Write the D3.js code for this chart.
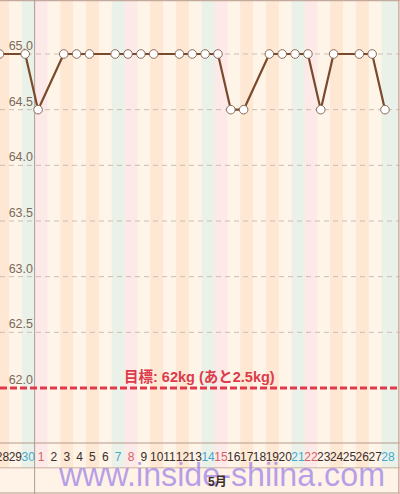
<!DOCTYPE html>
<html>
<head>
<meta charset="utf-8">
<script src="https://cdn.jsdelivr.net/npm/d3@7"></script>
<style>
  body { margin: 0; background: #fff; }
  #graf text { font-family: "Liberation Sans", Arial, "Noto Sans CJK JP", sans-serif; }
</style>
</head>
<body>
<div id="graf"></div>
<script>
// datos
var dias = ['28','29','30','1','2','3','4','5','6','7','8','9','10','11','12','13','14','15','16','17','18','19','20','21','22','23','24','25','26','27','28']
var pesos = [65.0, null, 65.0, 64.5, null, 65.0, 65.0, 65.0, null, 65.0, 65.0, 65.0, 65.0, null, 65.0, 65.0,
             65.0, 65.0, 64.5, 64.5, null, 65.0, 65.0, 65.0, 65.0, 64.5, 65.0, null, 65.0, 65.0, 64.5]
var yTicks = [62.0, 62.5, 63.0, 63.5, 64.0, 64.5, 65.0]
var meta = 62.0
var metaTexto = '目標: 62kg (あと2.5kg)'
var mesTexto = '5月'
var inicio = new Date(2016, 3, 28)

ancho_total = 400
alto_total = 494

graf = d3.select('#graf')
svg = graf.append('svg')
          .attr('width', ancho_total)
          .attr('height', alto_total)

alto_plot = 443
alto_eje = 468

// dia de la semana de cada columna
semana = dias.map((d, i) => new Date(inicio.getFullYear(), inicio.getMonth(), inicio.getDate() + i).getDay())

function colorCol(w) {
  if (w == 0) return '#fde9e7'
  if (w == 6) return '#eaf1e8'
  if (w == 2 || w == 4) return '#fee7d3'
  return '#fff4e8'
}
function colorDia(w) {
  if (w == 0) return '#d2626a'
  if (w == 6) return '#45a9cf'
  return '#3b2f2c'
}

x = d3.scaleLinear().domain([0, dias.length - 1]).range([-0.5, 385])
y = d3.scaleLinear().domain([meta, 65.0]).range([388, 54])
bw = x(1) - x(0)
off = 3

// fondo
svg.append('rect').attr('width', ancho_total).attr('height', alto_total).attr('fill', '#fff3e7')

svg.append('g').selectAll('rect')
   .data(dias)
   .enter().append('rect')
   .attr('x', (d, i) => x(i) + off - bw / 2)
   .attr('y', 0)
   .attr('width', (d, i) => i == dias.length - 1 ? ancho_total - (x(i) + off - bw / 2) : bw + 0.5)
   .attr('height', alto_eje)
   .attr('fill', (d, i) => colorCol(semana[i]))

// lineas de grilla
svg.append('g').selectAll('line')
   .data(yTicks.filter(t => t != meta))
   .enter().append('line')
   .attr('x1', 0).attr('x2', ancho_total)
   .attr('y1', d => y(d)).attr('y2', d => y(d))
   .attr('stroke', '#c9beb4')
   .attr('stroke-width', 1)
   .attr('stroke-dasharray', '5,4')

// etiquetas eje y
svg.append('g').selectAll('text')
   .data(yTicks)
   .enter().append('text')
   .attr('x', 33)
   .attr('y', d => y(d) - 4)
   .attr('text-anchor', 'end')
   .attr('font-size', '12.5px')
   .attr('fill', '#7c6a5c')
   .text(d => d.toFixed(1))

// bordes y bandas del eje x
svg.append('line').attr('x1', 0).attr('x2', ancho_total).attr('y1', alto_plot).attr('y2', alto_plot)
   .attr('stroke', '#b59a8c').attr('stroke-width', 1)
svg.append('line').attr('x1', 0).attr('x2', ancho_total).attr('y1', alto_eje).attr('y2', alto_eje)
   .attr('stroke', '#b59a8c').attr('stroke-width', 1)
svg.append('rect').attr('x', 0).attr('y', alto_eje + 0.5).attr('width', ancho_total).attr('height', alto_total - alto_eje - 2)
   .attr('fill', '#fff2e6')
svg.append('line').attr('x1', 0).attr('x2', ancho_total).attr('y1', 493).attr('y2', 493)
   .attr('stroke', '#b59a8c').attr('stroke-width', 1.2)
svg.append('line').attr('x1', 0).attr('x2', ancho_total).attr('y1', 0.6).attr('y2', 0.6)
   .attr('stroke', '#c4aa9c').attr('stroke-width', 1.2)
svg.append('line').attr('x1', 398.8).attr('x2', 398.8).attr('y1', 0).attr('y2', alto_total)
   .attr('stroke', '#d7aca3').attr('stroke-width', 1.5)

// separador de mes
sep = x(2) + off + bw / 2
svg.append('line').attr('x1', sep).attr('x2', sep).attr('y1', 0).attr('y2', alto_total)
   .attr('stroke', '#ab9c94').attr('stroke-width', 1)

// etiquetas de dias
svg.append('g').selectAll('text')
   .data(dias)
   .enter().append('text')
   .attr('x', (d, i) => x(i) + off)
   .attr('y', 461)
   .attr('text-anchor', 'middle')
   .attr('font-size', '12px')
   .attr('fill', (d, i) => colorDia(semana[i]))
   .text(d => d)

// marca de agua
svg.append('text')
   .attr('x', 59)
   .attr('y', 486)
   .attr('font-size', '33px')
   .attr('textLength', 326)
   .attr('lengthAdjust', 'spacingAndGlyphs')
   .attr('fill', '#9a7fe6')
   .attr('fill-opacity', 0.72)
   .text('www.inside-shiina.com')

svg.append('text')
   .attr('x', (sep + ancho_total) / 2)
   .attr('y', 486)
   .attr('text-anchor', 'middle')
   .attr('font-size', '12px')
   .attr('font-weight', 'bold')
   .attr('fill', '#3b2f2c')
   .text(mesTexto)

// linea meta
svg.append('line').attr('x1', 0).attr('x2', ancho_total).attr('y1', y(meta)).attr('y2', y(meta))
   .attr('stroke', '#e03a4a').attr('stroke-width', 3).attr('stroke-dasharray', '7,3')

svg.append('text')
   .attr('x', 124)
   .attr('y', y(meta) - 6)
   .attr('font-size', '14.5px')
   .attr('font-weight', 'bold')
   .attr('fill', '#dc3c4a')
   .text(metaTexto)

// serie
datos = pesos.map((v, i) => ({ i: i, v: v })).filter(d => d.v != null)

linea = d3.line().x(d => x(d.i)).y(d => y(d.v))

svg.append('path')
   .datum(datos)
   .attr('d', linea)
   .attr('fill', 'none')
   .attr('stroke', '#7a4a2c')
   .attr('stroke-width', 2.2)
   .attr('stroke-linejoin', 'round')

svg.append('g').selectAll('circle')
   .data(datos)
   .enter().append('circle')
   .attr('cx', d => x(d.i))
   .attr('cy', d => y(d.v))
   .attr('r', 4.3)
   .attr('fill', '#fff')
   .attr('stroke', '#8a6a58')
   .attr('stroke-width', 1)
</script>
</body>
</html>
